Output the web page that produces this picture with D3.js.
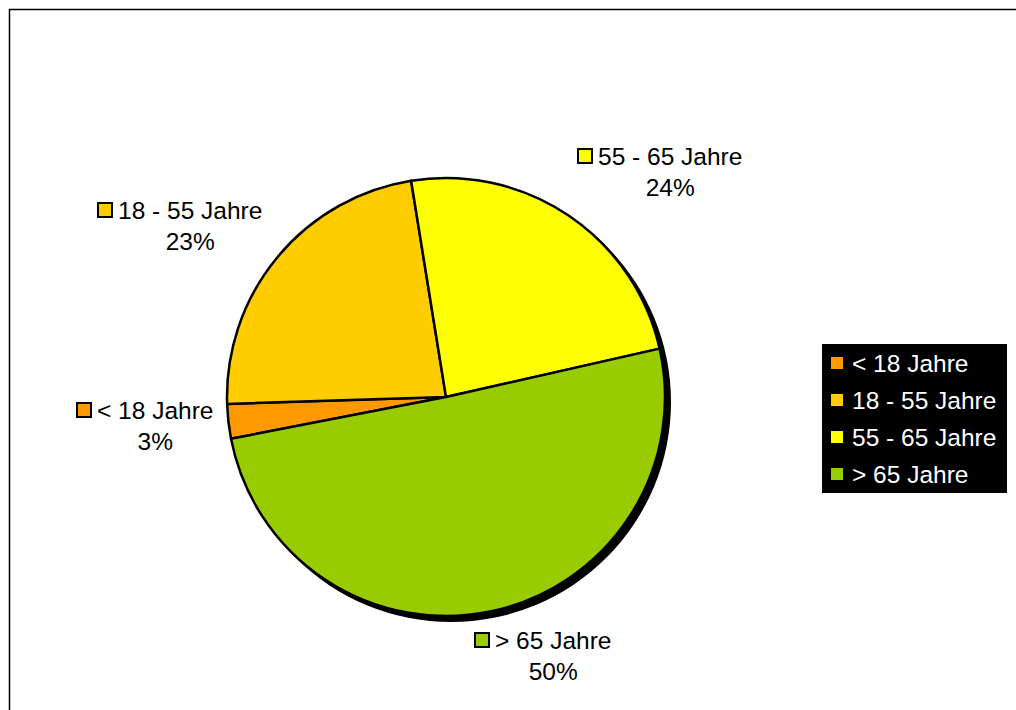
<!DOCTYPE html>
<html>
<head>
<meta charset="utf-8">
<script src="https://cdn.jsdelivr.net/npm/d3@7"></script>
<style>
  html, body { margin: 0; padding: 0; background: #fff; }
  svg { display: block; font-family: "Liberation Sans", Arial, sans-serif; }
</style>
</head>
<body>
<svg id="chart" width="1016" height="710"></svg>
<script>
// Age groups and their shares (percent)
const categories = ["< 18 Jahre", "18 - 55 Jahre", "55 - 65 Jahre", "> 65 Jahre"];
const shares = [2.55, 22.96, 24.0, 50.49];
const colors = ["#FF9900", "#FFCC00", "#FFFF00", "#99CC00"];

// Data label anchors: left edge of the marker square, first line middle
const labelAnchors = [[76, 410], [97, 210], [577, 156], [474, 640]];

const svg = d3.select("#chart");
const W = 1016, H = 710;
const cx = 446, cy = 397, R = 219;
const startDeg = 259;

// Outer frame of the chart area
svg.append("rect")
  .attr("x", 9.5).attr("y", 9.5)
  .attr("width", W + 20).attr("height", H + 20)
  .attr("fill", "#fff").attr("stroke", "#000").attr("stroke-width", 1.5);

const total = d3.sum(shares);
const data = categories.map((c, i) => ({ name: c, value: shares[i], color: colors[i] }));

const pie = d3.pie()
  .value(d => d.value)
  .sort(null)
  .startAngle(startDeg * Math.PI / 180)
  .endAngle((startDeg + 360) * Math.PI / 180);

const arc = d3.arc().innerRadius(0).outerRadius(R);
const arcs = pie(data);

const g = svg.append("g").attr("transform", `translate(${cx},${cy})`);

// Drop shadow behind the pie
g.append("circle")
  .attr("cx", 5).attr("cy", 5).attr("r", R + 1)
  .attr("fill", "#000");

g.selectAll("path.slice")
  .data(arcs)
  .join("path")
  .attr("class", "slice")
  .attr("d", arc)
  .attr("fill", d => d.data.color)
  .attr("stroke", "#000")
  .attr("stroke-width", 2.5)
  .attr("stroke-linejoin", "round");

// Data labels: marker + category, percentage centred under the category text
const fmt = d3.format(".0%");
const fontSize = 24.5;
arcs.forEach((a, i) => {
  const [lx, ly] = labelAnchors[i];
  const lg = svg.append("g").attr("transform", `translate(${lx},${ly})`);
  lg.append("rect")
    .attr("x", 1).attr("y", -7).attr("width", 14).attr("height", 14)
    .attr("fill", a.data.color).attr("stroke", "#000").attr("stroke-width", 2);
  const t = lg.append("text")
    .attr("x", 21).attr("y", 0)
    .attr("dy", "0.35em")
    .attr("font-size", fontSize)
    .attr("fill", "#000")
    .text(a.data.name);
  const tw = t.node().getComputedTextLength();
  lg.append("text")
    .attr("x", 21 + tw / 2).attr("y", 31)
    .attr("dy", "0.35em")
    .attr("text-anchor", "middle")
    .attr("font-size", fontSize)
    .attr("fill", "#000")
    .text(fmt(a.data.value / total));
});

// Legend
const legend = svg.append("g").attr("transform", "translate(822,344)");
legend.append("rect")
  .attr("width", 185).attr("height", 149)
  .attr("fill", "#000");
const rowY = d3.scalePoint().domain(categories).range([19, 130]);
const items = legend.selectAll("g.item")
  .data(data)
  .join("g")
  .attr("class", "item")
  .attr("transform", d => `translate(0,${rowY(d.name)})`);
items.append("rect")
  .attr("x", 9).attr("y", -6).attr("width", 12).attr("height", 12)
  .attr("fill", d => d.color);
items.append("text")
  .attr("x", 30).attr("dy", "0.35em")
  .attr("font-size", fontSize)
  .attr("fill", "#fff")
  .text(d => d.name);
</script>
</body>
</html>
